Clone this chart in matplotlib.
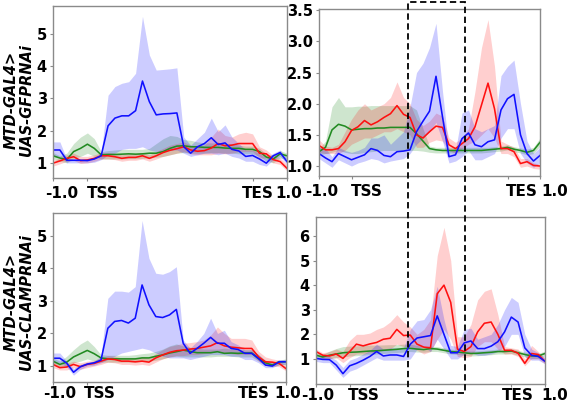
import numpy as np
import matplotlib
matplotlib.use("Agg")
import matplotlib.pyplot as plt
from matplotlib.patches import Rectangle
from matplotlib.transforms import ScaledTranslation

# ---------------- data (35 bins: -1.0 .. TSS .. TES .. 1.0) ----------------
xtick_labels = ["-1.0", "TSS", "TES", "1.0"]
tss_bin, tes_bin, last_bin = 5, 29, 34

# top-left : MTD-GAL4>UAS-GFPRNAi, window 1
tl_blue = [1.40,1.40,1.08,1.08,1.08,1.07,1.12,1.22,2.15,2.39,2.46,2.46,2.62,3.54,2.90,2.49,2.52,2.53,2.55,1.50,1.30,1.50,1.60,1.78,1.57,1.62,1.42,1.37,1.20,1.23,1.12,0.99,1.22,1.32,1.04]
tl_blue_hi = [1.65,1.65,1.12,1.12,1.12,1.12,1.18,1.30,3.10,3.37,3.47,3.52,3.78,5.55,4.35,3.88,3.90,3.92,3.95,1.80,1.55,1.75,1.95,2.39,1.97,2.18,1.80,1.60,1.40,1.40,1.30,1.15,1.30,1.40,1.15]
tl_blue_lo = [1.20,1.20,1.00,1.00,1.00,1.00,1.02,1.10,1.25,1.30,1.42,1.45,1.45,1.50,1.40,1.35,1.35,1.40,1.40,1.30,1.20,1.25,1.30,1.30,1.25,1.30,1.20,1.15,1.05,1.05,0.95,0.90,1.10,1.20,0.95]
tl_green = [1.22,1.15,1.10,1.35,1.45,1.58,1.45,1.25,1.26,1.26,1.27,1.28,1.27,1.28,1.30,1.30,1.35,1.45,1.52,1.53,1.50,1.50,1.48,1.48,1.48,1.46,1.45,1.45,1.42,1.42,1.35,1.18,1.12,1.28,1.22]
tl_green_hi = [1.32,1.22,1.30,1.60,1.80,1.93,1.75,1.35,1.38,1.40,1.42,1.42,1.42,1.42,1.45,1.60,1.75,1.85,1.82,1.72,1.70,1.65,1.62,1.62,1.62,1.60,1.60,1.55,1.52,1.52,1.45,1.28,1.22,1.38,1.30]
tl_green_lo = [1.12,1.05,1.00,1.15,1.20,1.30,1.20,1.12,1.12,1.12,1.12,1.13,1.13,1.14,1.15,1.18,1.20,1.25,1.30,1.32,1.30,1.30,1.30,1.32,1.32,1.30,1.30,1.28,1.28,1.28,1.20,1.05,1.00,1.15,1.12]
tl_red = [0.99,1.06,1.14,1.19,1.07,1.09,1.14,1.22,1.22,1.19,1.14,1.17,1.17,1.22,1.14,1.22,1.32,1.39,1.44,1.50,1.40,1.36,1.38,1.46,1.60,1.53,1.55,1.60,1.60,1.60,1.30,1.28,1.10,1.04,0.83]
tl_red_hi = [1.08,1.15,1.25,1.30,1.20,1.20,1.25,1.32,1.32,1.30,1.25,1.28,1.28,1.32,1.25,1.35,1.45,1.55,1.60,1.65,1.55,1.50,1.55,1.80,2.05,1.85,1.80,1.90,1.95,1.90,1.50,1.40,1.22,1.15,0.95]
tl_red_lo = [0.90,0.97,1.05,1.08,0.98,1.00,1.05,1.12,1.12,1.10,1.05,1.08,1.08,1.12,1.05,1.12,1.20,1.25,1.30,1.35,1.28,1.25,1.25,1.25,1.30,1.28,1.30,1.35,1.35,1.35,1.15,1.15,1.00,0.95,0.75]

# top-right : MTD-GAL4>UAS-GFPRNAi, window 2
tr_blue = [1.20,1.13,1.07,1.20,1.15,1.10,1.14,1.18,1.28,1.25,1.17,1.15,1.23,1.24,1.26,1.55,1.72,1.88,2.44,1.79,1.15,1.18,1.44,1.53,1.34,1.31,1.39,1.42,1.90,2.08,2.15,1.50,1.20,1.08,1.17]
tr_blue_hi = [1.30,1.28,1.15,1.30,1.25,1.22,1.25,1.30,1.45,1.45,1.50,1.35,1.45,1.55,1.95,2.50,2.65,2.90,3.29,2.20,1.25,1.25,1.85,1.90,1.60,1.55,1.60,1.65,2.45,2.60,2.70,2.00,1.40,1.20,1.30]
tr_blue_lo = [1.12,1.05,0.98,1.10,1.05,1.00,1.05,1.08,1.12,1.10,1.05,1.08,1.10,1.12,1.20,1.35,1.45,1.55,1.70,1.40,1.05,1.08,1.15,1.25,1.10,1.10,1.15,1.20,1.45,1.60,1.60,1.20,1.05,0.98,1.05]
tr_green = [1.23,1.30,1.58,1.67,1.64,1.58,1.59,1.60,1.60,1.61,1.61,1.62,1.62,1.62,1.62,1.52,1.40,1.28,1.26,1.25,1.25,1.25,1.25,1.25,1.25,1.25,1.26,1.27,1.28,1.30,1.27,1.25,1.22,1.25,1.38]
tr_green_hi = [1.28,1.40,1.95,2.10,1.95,1.95,1.96,1.96,1.97,1.97,1.97,1.97,1.97,1.97,1.97,1.90,1.60,1.32,1.30,1.30,1.30,1.30,1.30,1.30,1.30,1.30,1.30,1.31,1.32,1.34,1.31,1.29,1.27,1.30,1.45]
tr_green_lo = [1.18,1.20,1.22,1.25,1.22,1.20,1.20,1.22,1.23,1.24,1.25,1.25,1.25,1.25,1.25,1.25,1.24,1.22,1.21,1.21,1.21,1.21,1.21,1.21,1.21,1.21,1.22,1.23,1.24,1.26,1.23,1.21,1.18,1.20,1.32]
tr_red = [1.33,1.26,1.26,1.28,1.39,1.57,1.63,1.73,1.66,1.71,1.78,1.84,1.97,1.83,1.78,1.50,1.45,1.55,1.64,1.62,1.34,1.28,1.36,1.44,1.63,1.98,2.33,1.92,1.28,1.28,1.23,1.04,1.07,1.01,1.00]
tr_red_hi = [1.42,1.32,1.30,1.35,1.55,1.75,1.90,2.00,1.90,1.95,2.00,2.10,2.35,2.10,2.00,1.75,1.65,1.72,1.85,1.80,1.45,1.38,1.45,1.60,2.20,2.90,3.35,2.60,1.40,1.35,1.30,1.12,1.12,1.05,1.03]
tr_red_lo = [1.22,1.20,1.20,1.20,1.25,1.35,1.40,1.45,1.45,1.50,1.55,1.55,1.60,1.55,1.50,1.30,1.30,1.38,1.42,1.40,1.25,1.20,1.28,1.35,1.40,1.50,1.60,1.45,1.20,1.20,1.15,0.98,1.00,0.96,0.95]

# bottom-left : MTD-GAL4>UAS-CLAMPRNAi, window 1
bl_blue = [1.24,1.24,1.09,0.81,0.98,1.06,1.10,1.18,2.16,2.37,2.40,2.32,2.47,3.49,2.88,2.52,2.49,2.57,2.74,1.70,1.39,1.54,1.70,1.88,1.70,1.70,1.54,1.51,1.39,1.39,1.23,1.03,1.00,1.13,1.13]
bl_blue_hi = [1.40,1.40,1.15,0.92,1.05,1.12,1.15,1.30,3.08,3.30,3.30,3.27,3.44,5.47,4.31,3.85,3.82,3.90,4.05,1.80,1.55,1.75,2.00,2.47,2.00,2.10,1.75,1.65,1.50,1.50,1.35,1.15,1.10,1.20,1.20]
bl_blue_lo = [1.10,1.10,0.98,0.72,0.90,1.00,1.02,1.10,1.20,1.30,1.40,1.45,1.50,1.55,1.50,1.40,1.30,1.25,1.25,1.25,1.20,1.25,1.30,1.35,1.35,1.35,1.30,1.30,1.20,1.20,1.10,0.95,0.95,1.05,1.05]
bl_green = [1.15,1.05,1.12,1.28,1.38,1.48,1.38,1.25,1.22,1.22,1.22,1.22,1.22,1.25,1.25,1.30,1.34,1.40,1.44,1.49,1.45,1.41,1.41,1.41,1.44,1.39,1.40,1.39,1.40,1.40,1.23,1.10,1.03,1.13,1.13]
bl_green_hi = [1.25,1.15,1.30,1.50,1.68,1.80,1.60,1.35,1.33,1.33,1.33,1.33,1.35,1.38,1.40,1.45,1.52,1.62,1.68,1.62,1.58,1.55,1.52,1.52,1.52,1.55,1.52,1.50,1.50,1.50,1.35,1.18,1.12,1.18,1.22]
bl_green_lo = [1.05,0.98,1.00,1.10,1.15,1.22,1.15,1.12,1.12,1.12,1.12,1.12,1.12,1.15,1.15,1.18,1.22,1.28,1.30,1.28,1.28,1.28,1.28,1.28,1.30,1.30,1.30,1.28,1.28,1.28,1.15,1.02,0.98,1.03,1.05]
bl_red = [1.05,0.95,0.97,1.05,0.98,1.05,1.08,1.15,1.22,1.20,1.15,1.15,1.13,1.15,1.12,1.25,1.34,1.42,1.47,1.49,1.52,1.54,1.58,1.62,1.72,1.62,1.58,1.56,1.54,1.54,1.28,1.13,1.12,1.08,0.92]
bl_red_hi = [1.15,1.05,1.08,1.15,1.10,1.15,1.18,1.25,1.32,1.30,1.25,1.25,1.25,1.28,1.25,1.38,1.50,1.60,1.65,1.70,1.72,1.75,1.80,1.95,2.20,2.00,1.85,1.85,1.85,1.80,1.45,1.28,1.22,1.18,1.02]
bl_red_lo = [0.95,0.88,0.88,0.95,0.90,0.95,1.00,1.05,1.12,1.10,1.05,1.05,1.03,1.05,1.02,1.12,1.22,1.28,1.32,1.32,1.35,1.35,1.38,1.40,1.45,1.40,1.38,1.35,1.35,1.35,1.15,1.02,1.00,0.98,0.85]

# bottom-right : MTD-GAL4>UAS-CLAMPRNAi, window 2
br_blue = [1.02,0.98,0.97,0.75,0.40,0.72,0.82,0.95,1.10,1.30,1.12,1.16,1.16,1.10,1.60,1.85,1.90,1.95,2.75,2.00,1.25,1.25,1.65,1.73,1.42,1.42,1.52,1.70,2.10,2.70,2.50,1.45,1.15,1.10,0.90]
br_blue_hi = [1.15,1.10,1.10,0.95,0.65,0.95,1.05,1.20,1.35,1.60,1.40,1.45,1.45,1.45,2.20,2.55,2.60,3.00,3.95,2.60,1.55,1.50,2.20,2.25,1.80,1.90,2.00,2.40,3.00,3.50,3.30,2.00,1.40,1.25,1.05]
br_blue_lo = [0.90,0.85,0.85,0.55,0.25,0.50,0.60,0.75,0.90,1.05,0.95,0.95,0.95,0.95,1.00,1.40,1.50,1.30,1.80,1.40,1.00,1.00,1.20,1.25,1.15,1.15,1.20,1.30,1.50,2.00,2.00,1.10,0.95,0.95,0.80]
br_green = [1.15,1.08,1.15,1.20,1.25,1.27,1.28,1.30,1.32,1.33,1.35,1.37,1.39,1.42,1.43,1.40,1.38,1.42,1.40,1.35,1.30,1.28,1.25,1.22,1.23,1.25,1.27,1.30,1.30,1.32,1.25,1.18,1.12,1.12,1.22]
br_green_hi = [1.25,1.18,1.32,1.42,1.50,1.52,1.53,1.55,1.56,1.56,1.57,1.58,1.58,1.60,1.60,1.55,1.50,1.52,1.50,1.45,1.40,1.38,1.35,1.32,1.33,1.35,1.37,1.40,1.40,1.42,1.35,1.28,1.22,1.22,1.32]
br_green_lo = [1.05,0.98,1.02,1.05,1.08,1.12,1.13,1.15,1.18,1.20,1.22,1.24,1.26,1.28,1.30,1.28,1.27,1.30,1.30,1.25,1.20,1.18,1.15,1.12,1.13,1.15,1.17,1.20,1.20,1.22,1.15,1.08,1.02,1.02,1.12]
br_red = [1.30,1.15,1.12,1.20,1.02,1.30,1.60,1.53,1.61,1.67,1.80,1.84,2.20,1.95,1.97,1.60,1.48,1.45,3.65,4.00,3.30,1.40,1.30,1.50,2.10,2.45,2.50,2.00,1.35,1.35,1.23,0.82,1.22,1.18,0.90]
br_red_hi = [1.40,1.25,1.30,1.40,1.30,1.75,2.00,2.00,2.05,2.20,2.30,2.50,2.80,2.50,2.30,2.00,2.20,2.60,5.20,6.35,5.00,1.90,1.90,2.40,3.40,3.75,3.85,2.80,1.50,1.45,1.40,1.00,1.55,1.30,1.00]
br_red_lo = [1.20,1.02,1.00,1.05,0.85,1.05,1.20,1.20,1.25,1.30,1.35,1.40,1.60,1.50,1.50,1.35,1.20,1.30,1.80,2.20,1.80,1.10,1.05,1.10,1.50,1.70,1.70,1.40,1.20,1.20,1.10,0.72,1.00,1.00,0.80]

row_labels = ["MTD-GAL4>\nUAS-GFPRNAi", "MTD-GAL4>\nUAS-CLAMPRNAi"]

# ---------------- style ----------------
BLUE, RED, GREEN = "#1010ff", "#ff1010", "#228b22"
GREY = "#8a8a8a"
W, H = 572, 403

fig = plt.figure(figsize=(W / 100, H / 100), dpi=100)

def box(l, r, t, b):
    return [l / W, 1 - b / H, (r - l) / W, (b - t) / H]

panels = [
    dict(rect=box(53, 287, 6, 178), ylim=(0.53, 5.87), yticks=[1, 2, 3, 4, 5], yfmt="{:g}",
         blue=(tl_blue, tl_blue_lo, tl_blue_hi), red=(tl_red, tl_red_lo, tl_red_hi),
         green=(tl_green, tl_green_lo, tl_green_hi), xoff=[9, 15, 5, 2], xpad=3),
    dict(rect=box(319, 540, 9, 176), ylim=(0.84, 3.52), yticks=[1.0, 1.5, 2.0, 2.5, 3.0, 3.5], yfmt="{:.1f}",
         blue=(tr_blue, tr_blue_lo, tr_blue_hi), red=(tr_red, tr_red_lo, tr_red_hi),
         green=(tr_green, tr_green_lo, tr_green_hi), xoff=[3, 15, 14, 15], xpad=3),
    dict(rect=box(53, 286, 213, 382), ylim=(0.51, 5.7), yticks=[1, 2, 3, 4, 5], yfmt="{:g}",
         blue=(bl_blue, bl_blue_lo, bl_blue_hi), red=(bl_red, bl_red_lo, bl_red_hi),
         green=(bl_green, bl_green_lo, bl_green_hi), xoff=[7, 13, 2, 2], xpad=0.5),
    dict(rect=box(316, 545, 217, 384), ylim=(-0.02, 6.77), yticks=[1, 2, 3, 4, 5, 6], yfmt="{:g}",
         blue=(br_blue, br_blue_lo, br_blue_hi), red=(br_red, br_red_lo, br_red_hi),
         green=(br_green, br_green_lo, br_green_hi), xoff=[1.5, 14, 6, 10], xpad=0.3),
]

x = np.arange(len(tl_blue))

for p in panels:
    ax = fig.add_axes(p["rect"])
    for key, col, a in (("green", GREEN, 0.22), ("red", RED, 0.2), ("blue", BLUE, 0.21)):
        m, lo, hi = p[key]
        ax.fill_between(x, lo, hi, color=col, alpha=a, lw=0)
    for key, col in (("green", GREEN), ("red", RED), ("blue", BLUE)):
        m, lo, hi = p[key]
        ax.plot(x, m, color=col, lw=1.15)
    ax.set_xlim(0, last_bin)
    ax.set_ylim(*p["ylim"])
    ax.set_xticks([0, tss_bin, tes_bin, last_bin])
    ax.set_xticklabels(xtick_labels, fontsize=11, fontweight="bold")
    ax.set_yticks(p["yticks"])
    ax.set_yticklabels([p["yfmt"].format(v) for v in p["yticks"]], fontsize=10.5, fontweight="bold")
    ax.tick_params(axis="both", direction="out", length=2.5, width=0.8, color=GREY)
    ax.tick_params(axis="x", pad=p["xpad"])
    ax.tick_params(axis="y", pad=2)
    for s in ax.spines.values():
        s.set_color(GREY)
        s.set_linewidth(1.0)
    for lab, dx in zip(ax.get_xticklabels(), p["xoff"]):
        lab.set_transform(lab.get_transform() + ScaledTranslation(dx / 100, 0, fig.dpi_scale_trans))

fig.text(19 / W, 1 - 100 / H, row_labels[0], rotation=90, ha="center", va="center",
         multialignment="center", fontsize=10.5, fontweight="bold", fontstyle="italic", linespacing=1.05)
fig.text(19 / W, 1 - 302 / H, row_labels[1], rotation=90, ha="center", va="center",
         multialignment="center", fontsize=10.5, fontweight="bold", fontstyle="italic", linespacing=1.05)

rect = Rectangle((408 / W, 1 - 393 / H), (465 - 408) / W, (393 - 2) / H, transform=fig.transFigure,
                 fill=False, edgecolor="black", lw=1.3, linestyle=(0, (3.5, 2.0)), clip_on=False, zorder=10)
fig.patches.append(rect)

fig.savefig("out.png", dpi=100)
